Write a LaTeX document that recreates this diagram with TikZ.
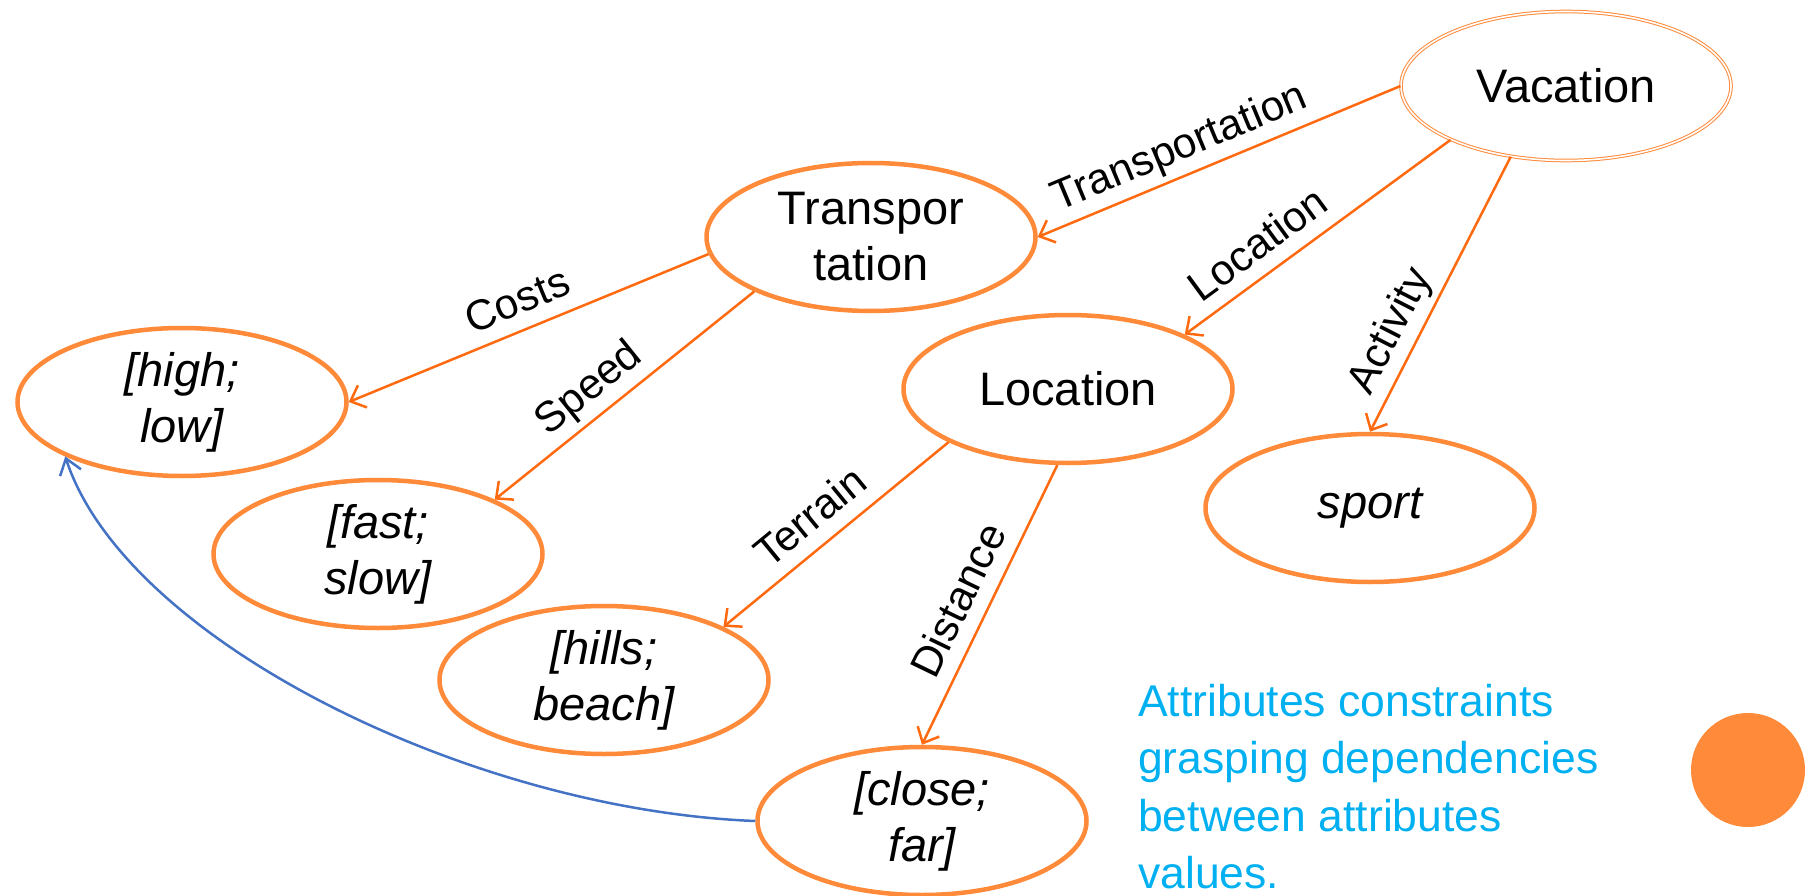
\documentclass[tikz,border=0pt]{standalone}
\usepackage{fontspec}
\setmainfont{Liberation Sans}
\usetikzlibrary{arrows.meta,shapes.geometric}
\definecolor{ovalorange}{HTML}{FF8A3A}
\definecolor{linkorange}{HTML}{FF6A10}
\definecolor{linkblue}{HTML}{4472C4}
\definecolor{noteblue}{HTML}{00B0F0}

\begin{document}
\begin{tikzpicture}[x=1pt,y=-1pt,
  oval/.style={ellipse, draw=ovalorange, line width=4.5pt, minimum width=329pt,
    minimum height=148pt, inner sep=0pt, align=center,
    font=\fontsize{47}{56}\selectfont},
  valueoval/.style={oval, font=\fontsize{47}{56}\selectfont\itshape},
  rootoval/.style={oval, line width=1pt, double=white, double distance=1.6pt,
    minimum width=330pt, minimum height=149pt},
  link/.style={draw=linkorange, line width=2.5pt,
    -{Straight Barb[length=13pt,width=24pt]}},
  backlink/.style={draw=linkblue, line width=2.5pt,
    -{Straight Barb[length=15pt,width=22pt]}},
  lbl/.style={sloped, above, font=\fontsize{42.5}{50}\selectfont,
    text height=31pt, text depth=8.5pt, inner sep=6pt, text=black},
]
\useasboundingbox (0,0) rectangle (1810,896);

% concept nodes
\node[rootoval] (vac) at (1566,86) {Vacation};
\node[oval] (tr) at (871,237) {Transpor\\tation};
\node[oval] (loc) at (1068,389) {Location};
\node[valueoval] (sport) at (1370,508) {sport};
\node[valueoval] (hl) at (182,402) {[high;\\low]};
\node[valueoval] (fs) at (378,554) {[fast;\\slow]};
\node[valueoval] (hb) at (604,680) {[hills;\\beach]};
\node[valueoval] (cf) at (922,821) {[close;\\far]};

% attribute links
\draw[link] (vac.west) -- node[lbl, pos=0.58] (lTr) {Transportation} (tr.east);
\draw[link] (vac.205) -- node[lbl, pos=0.66] (lLoc) {Location} (loc.25);
\draw[link] (vac.232) -- node[lbl, pos=0.68] (lAct) {Activity} (sport.north);
\draw[link] (tr.186) -- node[lbl, pos=0.5] (lCost) {Costs} (hl.east);
\draw[link] (tr.205) -- node[lbl, pos=0.57] (lSpeed) {Speed} (fs.25);
\draw[link] (loc.204) -- node[lbl, pos=0.53] (lTer) {Terrain} (hb.24);
\draw[link] (loc.262) -- node[lbl, pos=0.53] (lDist) {Distance} (cf.north);

% constraint between attribute values
\draw[backlink] (cf.west) .. controls (470,810) and (125,640) .. (hl.205);

% note
\node[anchor=north west, align=left, text=noteblue, inner sep=0pt,
  font=\fontsize{44.5}{57.5}\selectfont] (note) at (1138,684)
  {Attributes constraints\\grasping dependencies\\between attributes\\values.};

% bullet
\node[circle, fill=ovalorange, minimum size=114pt, inner sep=0pt] (dot) at (1748,770) {};
\end{tikzpicture}
\end{document}
